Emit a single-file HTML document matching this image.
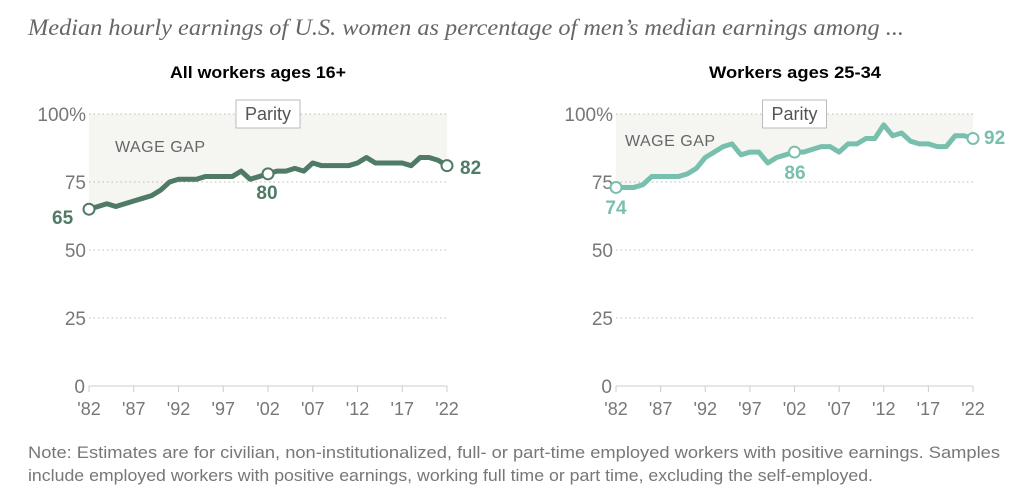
<!DOCTYPE html>
<html><head><meta charset="utf-8"><style>
body{margin:0;background:#fff;width:1024px;height:488px;overflow:hidden}
svg{font-family:"Liberation Sans",sans-serif}
</style></head><body>
<svg id="s" width="1024" height="488" xmlns="http://www.w3.org/2000/svg">
<text x="28" y="35" font-family="Liberation Serif" font-style="italic" font-size="23" fill="#666" textLength="876" lengthAdjust="spacingAndGlyphs">Median hourly earnings of U.S. women as percentage of men’s median earnings among ...</text>
<text x="258" y="78" text-anchor="middle" font-size="17" font-weight="bold" fill="#000" textLength="176" lengthAdjust="spacingAndGlyphs">All workers ages 16+</text>
<text x="795" y="78" text-anchor="middle" font-size="17" font-weight="bold" fill="#000" textLength="172" lengthAdjust="spacingAndGlyphs">Workers ages 25-34</text>
<text x="28" y="458" font-size="17" fill="#777" textLength="972" lengthAdjust="spacingAndGlyphs">Note: Estimates are for civilian, non-institutionalized, full- or part-time employed workers with positive earnings. Samples</text>
<text x="28" y="481" font-size="17" fill="#777" textLength="845" lengthAdjust="spacingAndGlyphs">include employed workers with positive earnings, working full time or part time, excluding the self-employed.</text>
<g id="g"></g>
</svg>
<script>
const A=[65,66,67,66,67,68,69,70,72,75,76,76,76,77,77,77,77,79,76,77,78,79,79,80,79,82,81,81,81,81,82,84,82,82,82,82,81,84,84,83,84];
A[40]=81;
const B=[73,73,73,74,77,77,77,77,78,80,84,86,88,89,85,86,86,82,84,85,86,86,87,88,88,86,89,89,91,91,96,92,93,90,89,89,88,88,92,92,91];
function chart(x0,x1,data,col,labs,wg){
 const Y=v=>386-v*2.72, X=i=>x0+(x1-x0)*i/40;
 let h='';
 let p=`M${x0},114 L${x1},114 `;for(let i=40;i>=0;i--)p+=`L${X(i)},${Y(data[i])} `;
 h+=`<path d="${p}Z" fill="#f5f5f2"/>`;
 [[100,'100%'],[75,'75'],[50,'50'],[25,'25']].forEach(([v,t])=>{
  h+=`<line x1="${x0}" x2="${x1}" y1="${Y(v)}" y2="${Y(v)}" stroke="#bbb" stroke-dasharray="1.5,3"/>`;
  h+=`<text x="${x0-3}" y="${Y(v)+7}" text-anchor="end" font-size="19" fill="#777">${t}</text>`;});
 h+=`<text x="${x0-4}" y="393" text-anchor="end" font-size="19" fill="#777">0</text>`;
 h+=`<line x1="${x0}" x2="${x1}" y1="386" y2="386" stroke="#ccc"/>`;
 ["'82","'87","'92","'97","'02","'07","'12","'17","'22"].forEach((t,k)=>{const x=X(k*5);
  h+=`<line x1="${x}" x2="${x}" y1="386" y2="392" stroke="#ccc"/><text x="${x}" y="415" text-anchor="middle" font-size="18" fill="#777">${t}</text>`;});
 const cx=(x0+x1)/2;
 h+=`<rect x="${cx-32}" y="100" width="64" height="28" fill="#fff" stroke="#bbb"/><text x="${cx}" y="120" text-anchor="middle" font-size="18" fill="#555">Parity</text>`;
 h+=`<text x="${x0+wg}" y="${wg<20?146:152}" font-size="16" fill="#666" letter-spacing="0.5">WAGE GAP</text>`;
 h+=`<polyline points="${data.map((v,i)=>X(i)+','+Y(v)).join(' ')}" fill="none" stroke="${col}" stroke-width="5" stroke-linejoin="round"/>`;
 [0,20,40].forEach(i=>h+=`<circle cx="${X(i)}" cy="${Y(data[i])}" r="5.5" fill="#fff" stroke="${col}" stroke-width="2"/>`);
 labs.forEach(([x,y,t,a])=>h+=`<text x="${x}" y="${y}" text-anchor="${a}" font-size="19" font-weight="bold" fill="${col}">${t}</text>`);
 return h;}
document.getElementById('g').innerHTML=chart(89,447,A,'#4e7a66',[[52,224,'65','start'],[267,199,'80','middle'],[460,174,'82','start']],26)+chart(616,973,B,'#79bfae',[[616,214,'74','middle'],[795,179,'86','middle'],[984,144,'92','start']],9);
</script>
</body></html>
